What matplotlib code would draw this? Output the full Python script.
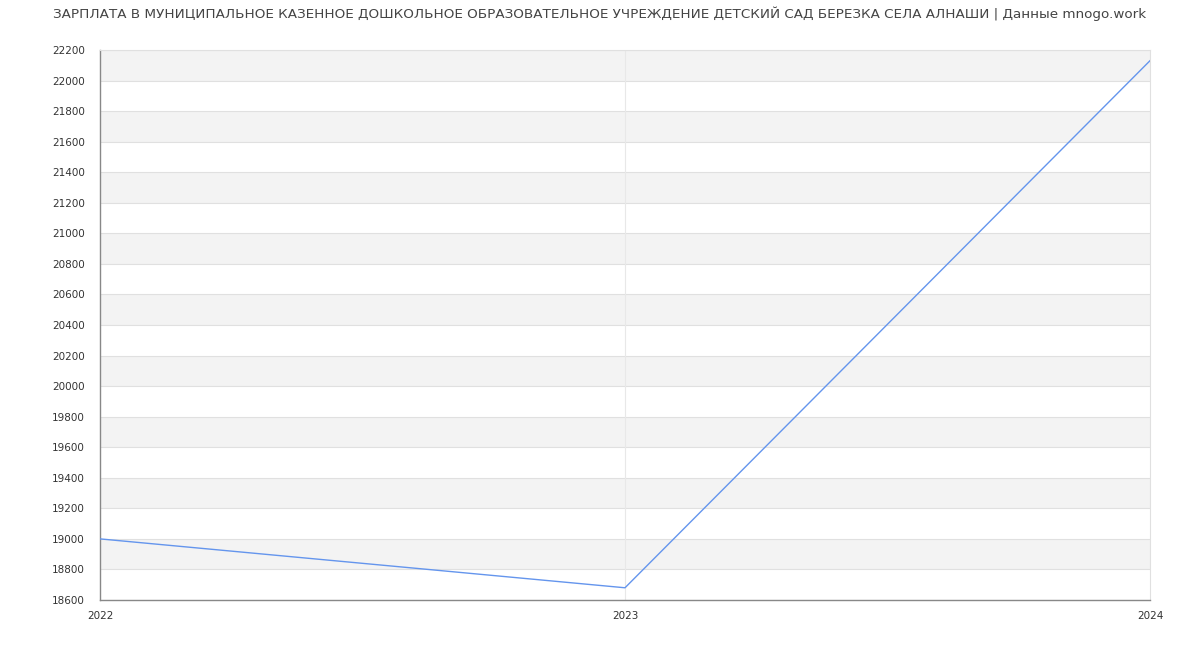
import matplotlib
matplotlib.use("Agg")
import matplotlib.pyplot as plt
import numpy as np

# данные с графика
years = [2022, 2023, 2024]
salary = [19000, 18680, 22130]
y_min, y_max, y_step = 18600, 22200, 200

title = ("ЗАРПЛАТА В МУНИЦИПАЛЬНОЕ КАЗЕННОЕ ДОШКОЛЬНОЕ ОБРАЗОВАТЕЛЬНОЕ УЧРЕЖДЕНИЕ "
         "ДЕТСКИЙ САД БЕРЕЗКА СЕЛА АЛНАШИ | Данные mnogo.work")

fig = plt.figure(figsize=(12, 6.5), dpi=100)
ax = fig.add_axes([100 / 1200, 50 / 650, 1050 / 1200, 550 / 650])

# полосы фона
for lo in range(y_min + 200, y_max, 400):
    ax.axhspan(lo, lo + 200, color='#f3f3f3', zorder=0, lw=0)
for y in range(y_min, y_max + 1, y_step):
    ax.axhline(y, color='#e0e0e0', lw=0.8, zorder=1)
ax.axvline(2023, color='#e8e8e8', lw=0.8, zorder=1)

ax.plot(years, salary, color='#6495ed', lw=1.0, zorder=3)

ax.set_xlim(years[0], years[-1])
ax.set_ylim(y_min, y_max)
ax.set_yticks(np.arange(y_min, y_max + 1, y_step))
ax.set_xticks(years)
ax.tick_params(axis='both', length=0, labelsize=7.5, labelcolor='#333333')
ax.tick_params(axis='y', pad=11)
ax.tick_params(axis='x', pad=8)

for s in ['top', 'right']:
    ax.spines[s].set_color('#e0e0e0')
    ax.spines[s].set_linewidth(0.8)
for s in ['left', 'bottom']:
    ax.spines[s].set_color('#888888')
    ax.spines[s].set_linewidth(1.0)

fig.text(0.5, 1 - 14 / 650, title, ha='center', va='center', fontsize=9.7, color='#444444')

fig.savefig("out.png", dpi=100)
